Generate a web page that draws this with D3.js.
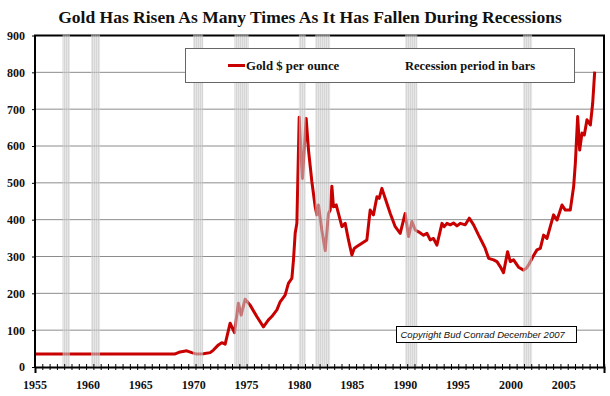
<!DOCTYPE html>
<html>
<head>
<meta charset="utf-8">
<script src="https://cdn.jsdelivr.net/npm/d3@7"></script>
<style>
  body { margin: 0; background: #fff; }
  svg { display: block; }
</style>
</head>
<body>
<svg id="svg" width="610" height="396"></svg>
<script>
"use strict";

// gold price, $ per ounce
const goldYears = [
    1955.0, 1968.2, 1968.72, 1969.35, 1969.82, 1970.3, 1970.92, 1971.56, 1971.87, 1972.34,
    1972.66, 1972.98, 1973.45, 1973.86, 1974.23, 1974.49, 1974.87, 1975.34, 1975.97, 1976.6,
    1977.07, 1977.39, 1977.87, 1978.18, 1978.65, 1978.96, 1979.29, 1979.44, 1979.6, 1979.76,
    1979.98, 1980.14, 1980.29, 1980.45, 1980.64, 1980.86, 1981.18, 1981.49, 1981.65, 1981.8,
    1982.12, 1982.44, 1982.75, 1982.91, 1983.07, 1983.22, 1983.48, 1983.69, 1984.02, 1984.33,
    1984.64, 1984.96, 1985.18, 1985.43, 1985.91, 1986.38, 1986.69, 1987.0, 1987.33, 1987.54,
    1987.8, 1988.11, 1988.59, 1989.06, 1989.53, 1990.0, 1990.32, 1990.64, 1990.95, 1991.26,
    1991.74, 1992.06, 1992.37, 1992.68, 1993.0, 1993.48, 1993.69, 1993.95, 1994.26, 1994.57,
    1994.9, 1995.21, 1995.68, 1996.06, 1996.47, 1996.94, 1997.26, 1997.57, 1997.89, 1998.36,
    1998.68, 1999.0, 1999.3, 1999.68, 1999.94, 2000.25, 2000.72, 2001.2, 2001.45, 2001.67,
    2002.09, 2002.46, 2002.78, 2003.09, 2003.41, 2003.72, 2004.03, 2004.36, 2004.83, 2005.14,
    2005.61, 2005.93, 2006.09, 2006.31, 2006.5, 2006.72, 2006.94, 2007.19, 2007.51, 2007.73,
    2007.92
];
const goldPrice = [
    35, 35, 41, 44, 39, 35, 36, 39, 46, 60,
    66, 62, 119, 93, 173, 141, 184, 168, 137, 109,
    128, 137, 155, 177, 195, 227, 241, 291, 363, 390,
    678, 589, 512, 589, 675, 589, 503, 435, 413, 440,
    372, 316, 417, 426, 491, 435, 440, 417, 381, 390,
    345, 304, 322, 327, 336, 345, 426, 413, 462, 458,
    485, 458, 417, 381, 363, 417, 354, 395, 372, 367,
    358, 363, 345, 349, 331, 390, 381, 390, 386, 391,
    383, 390, 386, 404, 386, 358, 340, 322, 295, 291,
    286, 272, 256, 313, 286, 291, 271, 263, 268, 277,
    300, 318, 322, 358, 349, 381, 413, 399, 440, 426,
    426, 490, 553, 680, 589, 635, 630, 671, 657, 716,
    802
];

// recession periods (bars)
const recessionStart = [1957.6, 1960.3, 1969.95, 1973.85, 1979.95, 1981.5, 1990.0, 2001.15];
const recessionEnd   = [1958.3, 1961.15, 1970.9, 1975.2, 1980.6, 1982.9, 1991.15, 2002.0];

const xLabels = [1955, 1960, 1965, 1970, 1975, 1980, 1985, 1990, 1995, 2000, 2005];
const yTicks = [0, 100, 200, 300, 400, 500, 600, 700, 800, 900];

const titleText = "Gold Has Risen As Many Times As It Has Fallen During Recessions";
const legendLine = "Gold $ per ounce";
const legendBars = "Recession period in bars";
const copyrightText = "Copyright Bud Conrad December 2007";

const plotLeft = 35, plotRight = 604, plotTop = 35.5, plotBottom = 367;
const serif = "'Liberation Serif', 'Times New Roman', serif";

var svg = d3.select("svg");

var x = d3.scaleLinear().domain([1955, 2008.8]).range([plotLeft, plotRight]);
var y = d3.scaleLinear().domain([0, 900]).range([plotBottom, plotTop]);

var defs = svg.append("defs");
var pattern = defs.append("pattern")
    .attr("id", "stripes")
    .attr("patternUnits", "userSpaceOnUse")
    .attr("width", 2)
    .attr("height", 4);
pattern.append("rect").attr("width", 2).attr("height", 4).attr("fill", "#d6d6d6");
pattern.append("rect").attr("width", 1).attr("height", 4).attr("fill", "#bcbcbc");

// title
svg.append("text")
    .attr("x", 310)
    .attr("y", 23)
    .attr("text-anchor", "middle")
    .attr("font-family", serif)
    .attr("font-weight", "bold")
    .attr("font-size", "17.5px")
    .attr("fill", "#111")
    .text(titleText);

// gridlines
svg.append("g")
    .selectAll("line")
    .data(yTicks.filter(d => d > 0 && d < 900))
    .enter()
    .append("line")
        .attr("x1", plotLeft)
        .attr("x2", plotRight)
        .attr("y1", d => y(d))
        .attr("y2", d => y(d))
        .attr("stroke", "#8c8c8c")
        .attr("stroke-width", 1);

// gold line
var gold = goldYears.map((d, i) => [d, goldPrice[i]]);
var line = d3.line()
    .x(d => x(d[0]))
    .y(d => y(d[1]));

svg.append("path")
    .datum(gold)
    .attr("d", line)
    .attr("fill", "none")
    .attr("stroke", "#c80000")
    .attr("stroke-width", 3)
    .attr("stroke-linejoin", "round");

// frame: left, top, right
svg.append("path")
    .attr("d", "M" + plotLeft + "," + plotBottom + "V" + plotTop + "H" + plotRight + "V" + plotBottom)
    .attr("fill", "none")
    .attr("stroke", "#000")
    .attr("stroke-width", 2);

// recession bars
svg.append("g")
    .attr("opacity", 0.6)
    .selectAll("rect")
    .data(recessionStart)
    .enter()
    .append("rect")
        .attr("x", d => x(d))
        .attr("width", (d, i) => x(recessionEnd[i]) - x(d))
        .attr("y", plotTop - 1)
        .attr("height", plotBottom - plotTop)
        .attr("fill", "url(#stripes)");

// x axis
var xAxis = svg.append("g")
    .attr("transform", "translate(0," + plotBottom + ")")
    .call(d3.axisBottom(x)
        .tickValues(d3.range(1955, 2008.9, 0.69))
        .tickSize(6)
        .tickFormat(""));
xAxis.select(".domain").attr("stroke", "#000").attr("stroke-width", 2);
xAxis.selectAll(".tick line").attr("y1", -3).attr("y2", 3).attr("stroke", "#000");

svg.append("g")
    .selectAll("text")
    .data(xLabels)
    .enter()
    .append("text")
        .attr("x", d => x(d))
        .attr("y", 388.5)
        .attr("text-anchor", "middle")
        .attr("font-family", serif)
        .attr("font-weight", "bold")
        .attr("font-size", "12px")
        .attr("fill", "#111")
        .text(d => d);

// y axis
var yAxis = svg.append("g")
    .attr("transform", "translate(" + plotLeft + ",0)")
    .call(d3.axisLeft(y).tickValues(yTicks).tickSize(3).tickPadding(7));
yAxis.select(".domain").remove();
yAxis.selectAll(".tick line").attr("stroke", "#000");
yAxis.selectAll(".tick text")
    .attr("font-family", serif)
    .attr("font-weight", "bold")
    .attr("font-size", "12px")
    .attr("fill", "#111");

// legend box
var legend = svg.append("g");
legend.append("rect")
    .attr("x", 185.5)
    .attr("y", 48.5)
    .attr("width", 389)
    .attr("height", 34)
    .attr("fill", "#fff")
    .attr("stroke", "#666")
    .attr("stroke-width", 1);
legend.append("line")
    .attr("x1", 228)
    .attr("x2", 245)
    .attr("y1", 65.5)
    .attr("y2", 65.5)
    .attr("stroke", "#c80000")
    .attr("stroke-width", 3);
legend.append("text")
    .attr("x", 246)
    .attr("y", 70)
    .attr("font-family", serif)
    .attr("font-weight", "bold")
    .attr("font-size", "12.8px")
    .attr("fill", "#111")
    .text(legendLine);
legend.append("text")
    .attr("x", 405)
    .attr("y", 70)
    .attr("font-family", serif)
    .attr("font-weight", "bold")
    .attr("font-size", "12.5px")
    .attr("fill", "#111")
    .text(legendBars);

// copyright box
var note = svg.append("g");
note.append("rect")
    .attr("x", 396.5)
    .attr("y", 326.5)
    .attr("width", 180)
    .attr("height", 16)
    .attr("fill", "#fff")
    .attr("stroke", "#000")
    .attr("stroke-width", 1);
note.append("text")
    .attr("x", 400.5)
    .attr("y", 338)
    .attr("font-family", "'Liberation Sans', Arial, sans-serif")
    .attr("font-style", "italic")
    .attr("font-size", "9.5px")
    .attr("fill", "#111")
    .text(copyrightText);
</script>
</body>
</html>
